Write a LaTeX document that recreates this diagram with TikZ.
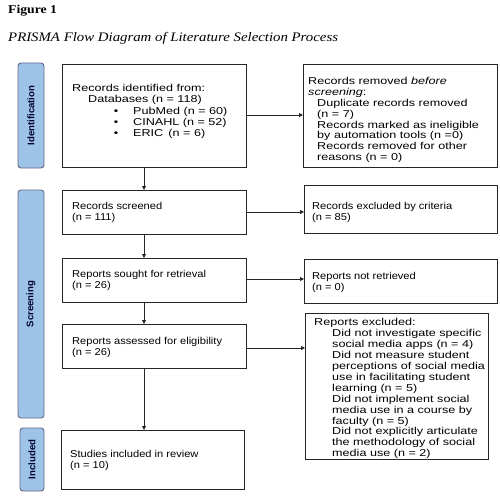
\documentclass[tikz,border=0pt]{standalone}
\usepackage{fontspec}
\setmainfont{Liberation Serif}
\setsansfont{Liberation Sans}[FakeStretch=1.26]
\newfontfamily\narrowsans{Liberation Sans}[FakeStretch=1.11]
\newfontfamily\titlefont{Liberation Serif}[FakeStretch=1.14]
\newfontfamily\tabfont{Liberation Sans}
\usetikzlibrary{arrows.meta}
\begin{document}
\begin{tikzpicture}[x=1pt,y=-1pt,
  box/.style={draw=black!85,line width=0.9pt},
  tab/.style={draw=black!75!blue!60,fill=tabblue,line width=0.9pt,rounded corners=3pt},
  tabtext/.style={rotate=90,font=\tabfont\bfseries\fontsize{9.6}{10}\selectfont,text=black!80!blue},
  txt/.style={anchor=north west,inner sep=0pt,align=left,font=\sffamily\fontsize{10}{10.9}\selectfont},
  txtn/.style={txt,font=\narrowsans\fontsize{10}{10.9}\selectfont},
  arr/.style={-{Triangle[length=4pt,width=4pt]},line width=0.8pt,black!85}]
\definecolor{tabblue}{HTML}{9DC3E6}
\useasboundingbox (0,0) rectangle (500,500);
\fill[white] (0,0) rectangle (500,500);
% titles
\node[anchor=west,inner sep=0pt,font=\titlefont\bfseries\fontsize{12}{14}\selectfont] (fig) at (8,11) {Figure 1};
\node[anchor=west,inner sep=0pt,font=\titlefont\itshape\fontsize{13}{15}\selectfont] (ttl) at (8,38) {PRISMA Flow Diagram of Literature Selection Process};
% tabs
\draw[tab] (18,63) rectangle (44,168);
\node[tabtext] (tid) at (31,115.5) {Identification};
\draw[tab] (18,190) rectangle (44,418);
\node[tabtext] (tsc) at (31,304) {Screening};
\draw[tab] (20,428) rectangle (44,491);
\node[tabtext] (tin) at (32,459.5) {Included};
% left boxes
\draw[box] (62,64) rectangle (246,167);
\coordinate (b1top) at (144,64);
\coordinate (b1bot) at (144,167);
\coordinate (b1r) at (246,115);
\node[txt,font=\sffamily\fontsize{10}{11.3}\selectfont] (t1) at (72,84) {Records identified from:\\
\hspace*{16pt}Databases (n = 118)\\
\hspace*{61pt}\llap{\textbullet\hspace*{15pt}}PubMed (n = 60)\\
\hspace*{61pt}\llap{\textbullet\hspace*{15pt}}CINAHL (n = 52)\\
\hspace*{61pt}\llap{\textbullet\hspace*{15pt}}ERIC\, (n = 6)};
\draw[box] (62,190) rectangle (246,234);
\coordinate (b2top) at (144,190);
\coordinate (b2bot) at (144,234);
\coordinate (b2r) at (246,212);
\node[txtn] (t2) at (72,202) {Records screened\\(n = 111)};
\draw[box] (62,258) rectangle (246,302);
\coordinate (b3top) at (144,258);
\coordinate (b3bot) at (144,302);
\coordinate (b3r) at (246,279);
\node[txtn] (t3) at (72,270) {Reports sought for retrieval\\(n = 26)};
\draw[box] (62,324) rectangle (246,368);
\coordinate (b4top) at (144,324);
\coordinate (b4bot) at (144,368);
\coordinate (b4r) at (246,348);
\node[txtn] (t4) at (72,337) {Reports assessed for eligibility\\(n = 26)};
\draw[box] (61,430) rectangle (244,489);
\coordinate (b5top) at (144,430);
\node[txtn] (t5) at (70,450) {Studies included in review\\(n = 10)};
% right boxes
\draw[box] (303,64) rectangle (497,167);
\coordinate (r1l) at (303,115);
\node[txt] (u1) at (308,77) {Records removed \textit{before}\\
\textit{screening}:\\
\hspace*{9pt}Duplicate records removed\\
\hspace*{9pt}(n = 7)\\
\hspace*{9pt}Records marked as ineligible\\
\hspace*{9pt}by automation tools (n =0)\\
\hspace*{9pt}Records removed for other\\
\hspace*{9pt}reasons (n = 0)};
\draw[box] (304,185) rectangle (497,233);
\coordinate (r2l) at (304,212);
\node[txtn] (u2) at (312,202) {Records excluded by criteria\\(n = 85)};
\draw[box] (304,259) rectangle (497,303);
\coordinate (r3l) at (304,279);
\node[txtn] (u3) at (312,272) {Reports not retrieved\\(n = 0)};
\draw[box] (305,313) rectangle (488,459);
\coordinate (r4l) at (305,348);
\node[txt] (u4) at (314,318.5) {Reports excluded:\\
\hspace*{18pt}Did not investigate specific\\
\hspace*{18pt}social media apps (n = 4)\\
\hspace*{18pt}Did not measure student\\
\hspace*{18pt}perceptions of social media\\
\hspace*{18pt}use in facilitating student\\
\hspace*{18pt}learning (n = 5)\\
\hspace*{18pt}Did not implement social\\
\hspace*{18pt}media use in a course by\\
\hspace*{18pt}faculty (n = 5)\\
\hspace*{18pt}Did not explicitly articulate\\
\hspace*{18pt}the methodology of social\\
\hspace*{18pt}media use (n = 2)};
% arrows
\draw[arr] (b1bot) -- (b2top);
\draw[arr] (b2bot) -- (b3top);
\draw[arr] (b3bot) -- (b4top);
\draw[arr] (b4bot) -- (b5top);
\draw[arr] (b1r) -- (r1l);
\draw[arr] (b2r) -- (r2l);
\draw[arr] (b3r) -- (r3l);
\draw[arr] (b4r) -- (r4l);
\end{tikzpicture}
\end{document}
